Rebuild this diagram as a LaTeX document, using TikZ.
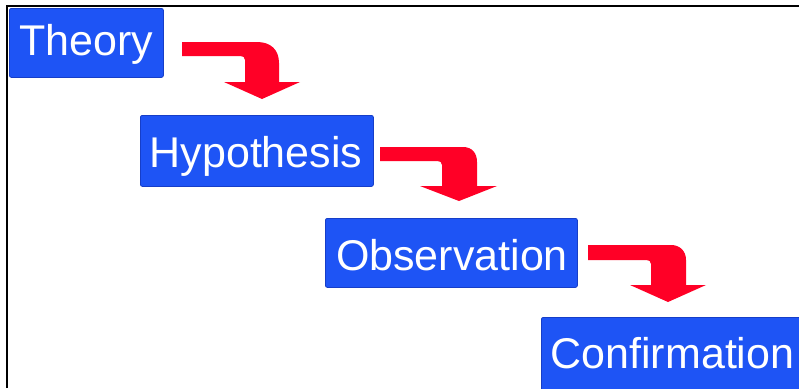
\documentclass[tikz,border=0pt]{standalone}
\usepackage{fontspec}
\setmainfont{Liberation Sans}
\definecolor{boxblue}{RGB}{30,84,245}
\definecolor{boxedge}{RGB}{22,62,200}
\definecolor{arrowred}{RGB}{255,0,38}
\tikzset{
  stepbox/.style={fill=boxblue, draw=boxedge, line width=0.8pt, rounded corners=2pt, inner sep=0pt},
  lbl/.style={anchor=base, inner sep=0pt, font=\fontsize{43}{43}\selectfont, text=white},
  blockarrow/.style={fill=arrowred, draw=none},
  frameline/.style={draw=black, line width=2pt}
}
\begin{document}
\begin{tikzpicture}[x=1pt,y=-1pt]
\useasboundingbox (0,0) rectangle (799,388);
\fill[white] (0,0) rectangle (799,388);
% boxes
\node[stepbox, minimum width=154pt, minimum height=69pt, anchor=north west] (theory) at (9,8) {};
\node[stepbox, minimum width=233pt, minimum height=71pt, anchor=north west] (hypothesis) at (140,115) {};
\node[stepbox, minimum width=252pt, minimum height=69pt, anchor=north west] (observation) at (325,218) {};
\node[stepbox, minimum width=265pt, minimum height=80pt, anchor=north west] (confirmation) at (541,317) {};
% labels
\node[lbl] (theorytext) at (86.5,55) {Theory};
\node[lbl] (hypothesistext) at (256,167) {Hypothesis};
\node[lbl] (observationtext) at (452,270) {Observation};
\node[lbl] (confirmationtext) at (672.5,368) {Confirmation};
% arrows
\path[blockarrow] (182,42) -- (257,42) .. controls (271,42) and (279,50) .. (279,63) -- (279,82) -- (300,82) -- (262,99) -- (224,82) -- (245,82) -- (245,60) .. controls (245,57) and (243,56) .. (240,56) -- (182,56) -- cycle;
\path[blockarrow] (380,147) -- (463,147) .. controls (472,147) and (477,153) .. (477,162) -- (477,186) -- (497,186) -- (459,201) -- (420,186) -- (442,186) -- (442,165) .. controls (442,162) and (440,161) .. (437,161) -- (380,161) -- cycle;
\path[blockarrow] (588,245) -- (671,245) .. controls (680,245) and (686,251) .. (686,260) -- (686,285) -- (706,285) -- (668,302) -- (630,285) -- (651,285) -- (651,264) .. controls (651,261) and (649,260) .. (646,260) -- (588,260) -- cycle;
% frame
\draw[frameline] (7,388) -- (7,6) -- (799,6);
\end{tikzpicture}
\end{document}
